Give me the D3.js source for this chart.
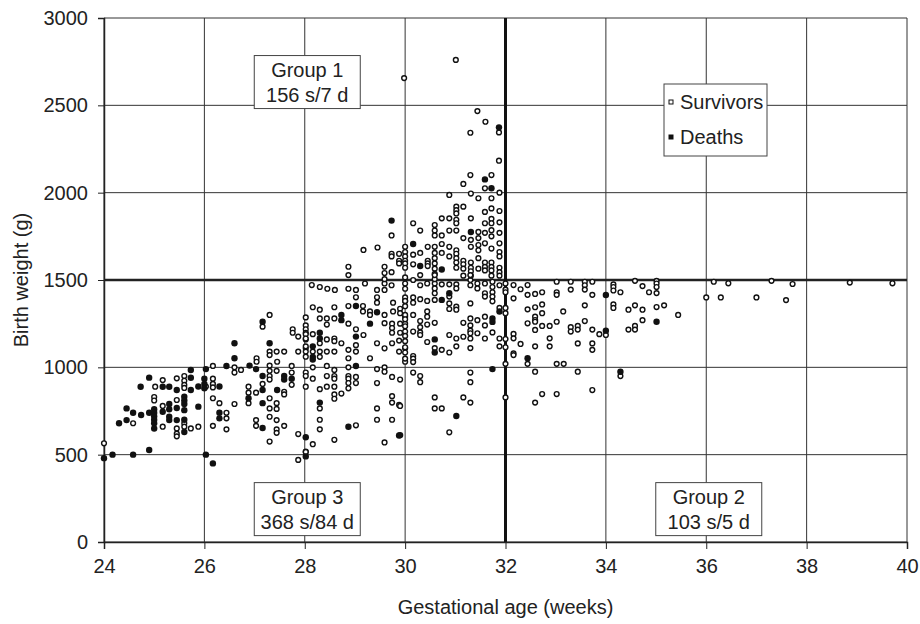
<!DOCTYPE html>
<html>
<head>
<meta charset="utf-8">
<script src="https://cdn.jsdelivr.net/npm/d3@7"></script>
<style>
  body { margin: 0; background: #fff; }
  svg text { font-family: "Liberation Sans", Arial, sans-serif; fill: #222; }
</style>
</head>
<body>
<div id="chart"></div>
<script>
// tick values
var xTicks = [24, 26, 28, 30, 32, 34, 36, 38, 40];
var yTicks = [0, 500, 1000, 1500, 2000, 2500, 3000];

// [gestational age (weeks), birth weight (g)]
var survivors = [
  [24.0,565],[24.58,680],[25.02,889],[25.0,830],[25.0,810],[25.17,927],[25.17,779],[25.17,660],
  [25.45,937],[25.45,813],[25.45,650],[25.45,620],[25.45,605],[25.6,950],[25.6,923],[25.6,899],
  [25.6,882],[25.6,680],[25.6,660],[25.73,650],[25.88,660],[26.03,890],
  [27.3,1300],[27.16,1233],[27.3,1090],[27.3,1070],[27.44,1090],[27.59,1090],[27.76,1218],[27.76,1198],
  [27.87,1176],[27.87,1090],[28.02,1286],[28.02,1240],[28.02,1218],[28.02,1198],[28.02,1160],[28.02,1109],
  [28.02,1061],[27.04,1052],[27.04,1032],[27.45,1032],[26.17,1008],[26.6,1000],[26.6,970],[26.73,985],
  [27.3,1010],[27.3,980],[27.3,950],[27.3,930],[27.44,980],[27.74,1008],[27.74,970],[27.74,900],
  [28.02,970],[28.02,889],[26.17,935],[26.17,905],[26.17,885],[26.17,823],[26.3,795],[26.6,790],
  [26.88,889],[26.88,855],[26.88,795],[27.03,855],[27.16,905],[27.3,823],[27.59,860],[27.59,845],
  [27.3,765],[27.44,795],[27.44,762],[27.3,717],[27.44,698],[26.44,740],[26.44,708],[26.44,645],
  [26.17,665],[27.03,698],[27.03,665],[27.44,645],[27.44,625],[27.59,665],[27.3,575],[27.87,618],
  [28.02,517],[27.87,470],
  [28.14,1471],[28.3,1460],[28.45,1450],[28.87,1450],[28.6,1443],[29.02,1443],[29.44,1443],[29.59,1443],
  [29.59,1480],[29.73,1470],[29.2,1480],[29.02,1401],[29.44,1401],[29.44,1370],[28.16,1344],[28.3,1330],
  [28.59,1344],[28.87,1351],[29.16,1351],[29.16,1320],[29.3,1320],[29.3,1300],[29.59,1300],[29.76,1370],
  [29.76,1320],[29.9,1335],[29.9,1310],[30.0,1380],[30.0,1350],[28.3,1280],[28.44,1280],[28.59,1280],
  [28.44,1245],[28.87,1250],[29.02,1218],[29.17,1185],[29.59,1253],[29.74,1250],[29.74,1225],[29.74,1198],
  [29.9,1250],[29.9,1198],[30.0,1290],[30.0,1250],[28.02,1190],[28.02,1165],[28.16,1190],[28.3,1138],
  [28.44,1160],[28.59,1165],[28.59,1150],[28.73,1138],[29.02,1127],[29.02,1090],[28.87,1100],[29.44,1138],
  [29.59,1109],[29.74,1138],[29.88,1153],[29.88,1090],[30.0,1109],[30.0,1032],[28.02,1120],[28.02,1090],
  [28.16,1090],[28.3,1090],[28.3,1060],[28.44,1090],[28.59,1090],[28.87,1052],[29.3,1052],[28.16,1000],
  [28.44,1008],[28.87,1000],[29.44,990],[29.59,1000],[29.59,975],[28.02,950],[28.16,935],[28.44,950],
  [28.59,985],[28.59,950],[28.59,935],[28.59,889],[28.44,889],[28.87,950],[28.87,935],[28.87,910],
  [28.87,880],[29.02,945],[29.02,910],[29.44,910],[29.74,945],[29.9,930],[28.3,875],[28.59,845],
  [28.59,820],[28.73,850],[28.3,765],[29.74,835],[29.74,798],[29.88,785],[29.44,765],[28.3,700],
  [28.3,645],[29.02,668],[29.44,700],[29.74,700],[28.16,560],[28.59,585],[29.59,570],[28.02,515],
  [30.0,1480],[30.0,1450],[30.16,1500],[30.3,1470],[30.44,1480],[30.59,1480],[30.59,1452],[30.59,1424],
  [30.73,1475],[30.88,1475],[30.88,1405],[31.02,1475],[31.02,1452],[31.3,1500],[31.3,1470],[31.44,1480],
  [31.44,1452],[31.59,1480],[31.59,1424],[31.59,1405],[31.74,1490],[31.74,1460],[31.74,1430],[31.74,1405],
  [31.74,1378],[31.88,1340],[31.88,1470],[30.0,1400],[30.0,1380],[30.16,1400],[30.16,1370],[30.3,1390],
  [30.44,1380],[30.59,1386],[30.88,1366],[30.88,1334],[31.02,1347],[31.02,1330],[31.3,1366],[30.0,1300],
  [30.0,1275],[30.0,1235],[30.0,1205],[30.0,1180],[30.0,1150],[30.0,1115],[30.0,1085],[30.16,1300],
  [30.16,1205],[30.3,1265],[30.3,1230],[30.3,1200],[30.3,1185],[30.44,1320],[30.44,1290],[30.44,1245],
  [30.44,1145],[30.59,1255],[30.59,1110],[30.73,1100],[30.88,1185],[30.88,1085],[31.02,1165],[31.02,1120],
  [31.16,1255],[31.16,1175],[31.3,1280],[31.3,1240],[31.3,1210],[31.3,1195],[31.3,1165],[31.3,1110],
  [31.44,1270],[31.44,1195],[31.59,1290],[31.59,1240],[31.59,1165],[31.74,1200],[31.88,1165],[31.88,1120],
  [30.0,1050],[30.16,1065],[30.16,1050],[30.16,1030],[30.16,970],[30.3,950],[30.3,915],[31.3,970],
  [31.3,915],[30.59,828],[31.16,828],[31.3,798],[30.59,765],[30.73,765],[30.88,628],[29.9,779],
  [32.0,1480],[32.0,1445],[32.0,1430],[32.16,1471],[32.3,1447],[32.44,1471],[32.16,1395],[32.44,1415],
  [32.59,1420],[32.73,1430],[33.02,1490],[33.02,1430],[33.02,1415],[33.3,1490],[33.3,1445],[33.58,1490],
  [33.58,1470],[33.58,1445],[33.73,1490],[33.73,1415],[34.15,1475],[34.15,1460],[34.15,1440],[34.29,1430],
  [34.58,1495],[34.73,1465],[34.86,1430],[35.01,1495],[35.01,1480],[35.01,1460],[35.01,1425],[36.0,1400],
  [32.0,1340],[32.0,1310],[32.44,1332],[32.44,1252],[32.59,1344],[32.59,1290],[32.59,1271],[32.59,1261],
  [32.59,1214],[32.73,1360],[32.73,1310],[32.73,1237],[32.88,1237],[33.02,1261],[33.15,1320],[33.3,1230],
  [33.3,1205],[33.44,1237],[33.44,1216],[33.58,1355],[33.58,1265],[33.73,1216],[33.87,1190],[34.0,1185],
  [34.15,1360],[34.15,1340],[34.45,1330],[34.45,1216],[34.58,1355],[34.58,1237],[34.58,1216],[34.73,1330],
  [34.73,1270],[35.01,1345],[35.16,1355],[35.44,1300],[32.16,1191],[32.16,1166],[32.16,1080],[32.16,1070],
  [32.0,1162],[32.0,1115],[32.3,1134],[32.59,1120],[32.88,1166],[32.88,1120],[33.44,1137],[33.73,1137],
  [33.73,1100],[32.44,1020],[33.02,1020],[33.16,1020],[32.0,1020],[32.59,975],[33.44,975],[34.29,950],
  [33.73,870],[32.73,847],[33.02,847],[32.59,798],[32.0,828],
  [36.15,1490],[36.44,1481],[37.3,1495],[37.72,1477],[38.86,1485],[39.71,1481],[36.29,1400],[37.0,1400],
  [37.59,1385],
  [29.98,2656],[31.01,2760],[31.44,2467],[31.6,2406],[31.3,2343],[31.87,2345],[31.87,2183],[31.3,2101],
  [31.72,2101],[31.16,2050],[31.59,2025],[31.88,2000],[30.88,1987],[31.31,1995],[31.46,1968],[31.72,1968],
  [31.02,1920],[31.02,1900],[31.02,1881],[31.16,1920],[31.59,1890],[31.72,1910],[31.88,1895],[30.73,1853],
  [30.88,1853],[31.02,1845],[31.02,1825],[31.31,1853],[31.59,1825],[31.72,1850],[31.72,1825],[31.88,1830],
  [30.16,1825],[30.3,1783],[30.59,1815],[30.59,1783],[30.59,1755],[30.73,1755],[30.88,1783],[31.02,1783],
  [31.46,1775],[31.59,1770],[31.72,1785],[31.72,1750],[31.88,1770],[29.73,1755],[31.16,1740],[31.31,1730],
  [31.46,1740],[31.46,1700],[31.59,1710],[31.88,1710],[30.0,1690],[30.45,1690],[30.59,1690],[30.73,1706],
  [30.88,1690],[31.02,1670],[31.31,1690],[31.46,1670],[31.72,1680],[29.17,1672],[29.45,1686],[29.73,1650],
  [29.73,1635],[29.88,1650],[30.0,1660],[30.0,1635],[30.16,1645],[30.3,1655],[30.45,1610],[30.45,1595],
  [30.59,1655],[30.59,1625],[30.59,1595],[30.73,1655],[30.88,1635],[31.02,1650],[31.02,1625],[31.02,1600],
  [31.02,1570],[31.16,1610],[31.16,1590],[31.31,1600],[31.31,1570],[31.46,1625],[31.59,1600],[31.59,1575],
  [31.59,1555],[31.72,1600],[31.72,1575],[31.72,1555],[31.88,1660],[31.88,1635],[31.88,1570],[31.88,1545],
  [31.88,1525],[29.88,1610],[29.88,1595],[30.0,1610],[30.0,1595],[30.0,1570],[30.16,1590],[30.45,1580],
  [30.59,1565],[30.59,1535],[31.16,1565],[31.16,1525],[31.31,1550],[31.31,1525],[31.46,1565],[31.72,1525],
  [28.87,1576],[28.87,1528],[29.59,1576],[29.59,1540],[29.73,1545],[30.0,1515],[30.59,1505],[29.59,1505],
  [30.3,1528],[30.59,1528],[31.3,1528]
];

var deaths = [
  [24.0,480],[24.17,500],[24.58,500],[24.9,527],[24.3,680],[24.45,698],[24.45,765],[24.58,740],
  [24.74,727],[24.9,740],[24.73,889],[24.9,941],[25.0,760],[25.0,740],[25.0,720],[25.0,700],
  [25.0,680],[25.0,650],[25.17,889],[25.3,889],[25.17,746],[25.3,790],[25.3,760],[25.3,717],
  [25.3,698],[25.45,870],[25.45,767],[25.45,698],[25.6,832],[25.6,810],[25.6,790],[25.6,755],
  [25.6,700],[25.6,630],[25.73,985],[25.73,940],[25.73,870],[25.88,890],[25.88,775],[26.03,990],
  [26.0,935],[26.0,905],[26.0,880],[26.03,500],[26.17,450],
  [27.16,1261],[26.6,1138],[26.6,1052],[27.3,1138],[26.44,1008],[26.9,1010],[27.03,990],[27.16,950],
  [27.59,950],[27.59,930],[27.74,935],[26.3,890],[26.88,823],[27.16,870],[27.16,795],[27.45,870],
  [26.3,740],[26.3,708],[27.16,653],[28.02,600],[28.02,490],
  [29.02,1351],[28.73,1300],[28.73,1270],[29.02,1176],[29.3,1250],[29.44,1315],[28.3,1198],[28.3,1165],
  [28.16,1120],[28.16,1060],[28.16,1045],[29.02,1008],[28.3,798],[28.87,660],[29.88,610],
  [30.73,1386],[30.88,1424],[30.59,1160],[30.59,1085],[31.74,1280],[31.74,1260],[31.88,1320],[31.74,990],
  [31.02,721],[29.9,612],
  [29.73,1840],[30.16,1706],[31.31,1775],[31.59,2076],[31.72,2025],[31.87,2374],[30.3,1580],[30.73,1560],
  [32.44,1052],[34.0,1414],[34.0,1210],[35.01,1261],[34.29,975]
];

// group text boxes
var groupNames = ["Group 1", "Group 3", "Group 2"];
var groupCounts = ["156 s/7 d", "368 s/84 d", "103 s/5 d"];
var groupAnchor = [[28.05, 2785], [28.05, 340], [36.05, 340]];

var legendLabels = ["Survivors", "Deaths"];

var width = 920, height = 624;
var margin = {top: 18, right: 13, bottom: 82, left: 104};
var lineColor = '#333';
var fontSize = 20;

var svg = d3.select('#chart').append('svg')
    .attr('width', width)
    .attr('height', height);

var x = d3.scaleLinear().domain([24, 40]).range([margin.left, width - margin.right]);
var y = d3.scaleLinear().domain([0, 3000]).range([height - margin.bottom, margin.top]);

// grid
svg.append('g').selectAll('line').data(xTicks).join('line')
    .attr('x1', d => x(d)).attr('x2', d => x(d))
    .attr('y1', y(0)).attr('y2', y(3000))
    .attr('stroke', lineColor).attr('stroke-width', 1);
svg.append('g').selectAll('line').data(yTicks).join('line')
    .attr('x1', x(24)).attr('x2', x(40))
    .attr('y1', d => y(d)).attr('y2', d => y(d))
    .attr('stroke', lineColor).attr('stroke-width', 1);

// group dividers
svg.append('line')
    .attr('x1', x(24)).attr('x2', x(40))
    .attr('y1', y(1500)).attr('y2', y(1500))
    .attr('stroke', '#222').attr('stroke-width', 2.5);
svg.append('line')
    .attr('x1', x(32)).attr('x2', x(32))
    .attr('y1', y(0)).attr('y2', y(3000))
    .attr('stroke', '#111').attr('stroke-width', 3);

// axes
var xAxis = svg.append('g')
    .attr('transform', 'translate(0,' + y(0) + ')')
    .call(d3.axisBottom(x).tickValues(xTicks).tickSize(7).tickPadding(10));
var yAxis = svg.append('g')
    .attr('transform', 'translate(' + x(24) + ',0)')
    .call(d3.axisLeft(y).tickValues(yTicks).tickFormat(d3.format('d')).tickSize(6).tickPadding(10));
[xAxis, yAxis].forEach(function(a) {
    a.select('.domain').attr('stroke', '#222').attr('stroke-width', 1.5);
    a.selectAll('.tick line').attr('stroke', '#222');
    a.selectAll('.tick text')
        .style('font-size', fontSize + 'px')
        .style('font-family', '"Liberation Sans", Arial, sans-serif')
        .attr('fill', '#222');
});

// points
svg.append('g').selectAll('circle').data(survivors).join('circle')
    .attr('cx', d => x(d[0])).attr('cy', d => y(d[1]))
    .attr('r', 2.4)
    .attr('fill', '#fff').attr('stroke', '#111').attr('stroke-width', 1.4);
svg.append('g').selectAll('circle').data(deaths).join('circle')
    .attr('cx', d => x(d[0])).attr('cy', d => y(d[1]))
    .attr('r', 3.2)
    .attr('fill', '#111');

// group boxes
var boxes = svg.append('g').selectAll('g').data(groupNames).join('g')
    .attr('transform', (d, i) => 'translate(' + x(groupAnchor[i][0]) + ',' + y(groupAnchor[i][1]) + ')');
boxes.append('rect')
    .attr('x', -53).attr('y', 0).attr('width', 106).attr('height', 53)
    .attr('fill', '#fff').attr('stroke', '#444').attr('stroke-width', 1);
boxes.append('text')
    .attr('text-anchor', 'middle').attr('y', 21)
    .style('font-size', fontSize + 'px')
    .text(d => d);
boxes.append('text')
    .attr('text-anchor', 'middle').attr('y', 46)
    .style('font-size', fontSize + 'px')
    .text((d, i) => groupCounts[i]);

// legend
var legend = svg.append('g').attr('transform', 'translate(664,84)');
legend.append('rect')
    .attr('width', 103).attr('height', 72)
    .attr('fill', '#fff').attr('stroke', '#444').attr('stroke-width', 1);
var rows = legend.selectAll('g.row').data(legendLabels).join('g')
    .attr('class', 'row')
    .attr('transform', (d, i) => 'translate(0,' + (18 + i * 35) + ')');
rows.append('rect')
    .attr('x', 5).attr('y', -2).attr('width', 4).attr('height', 4)
    .attr('fill', (d, i) => i === 0 ? '#fff' : '#111')
    .attr('stroke', '#111').attr('stroke-width', 1);
rows.append('text')
    .attr('x', 16).attr('y', 7)
    .style('font-size', fontSize + 'px')
    .text(d => d);

// axis titles
svg.append('text')
    .attr('x', (x(24) + x(40)) / 2).attr('y', 614)
    .attr('text-anchor', 'middle')
    .style('font-size', fontSize + 'px')
    .text('Gestational age (weeks)');
svg.append('text')
    .attr('transform', 'translate(28,' + y(1500) + ') rotate(-90)')
    .attr('text-anchor', 'middle')
    .style('font-size', fontSize + 'px')
    .text('Birth weight (g)');
</script>
</body>
</html>
